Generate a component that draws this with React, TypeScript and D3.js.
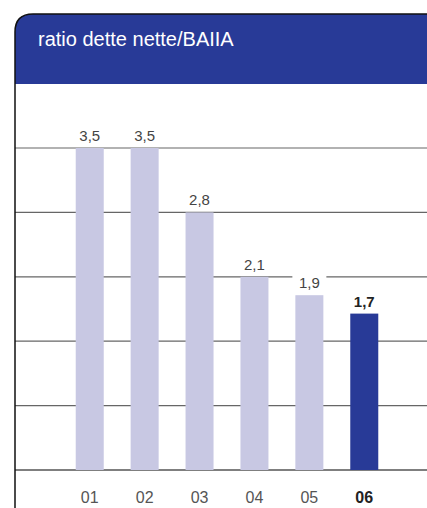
import React from 'react';
import * as d3 from 'd3';

const years = ['01', '02', '03', '04', '05', '06'];
const ratios = [3.5, 3.5, 2.8, 2.1, 1.9, 1.7];
const ratioLabels = ['3,5', '3,5', '2,8', '2,1', '1,9', '1,7'];
const gridTicks = [0, 0.7, 1.4, 2.1, 2.8, 3.5];
const title = 'ratio dette nette/BAIIA';

const App: React.FC = () => {
    const width = 427;
    const height = 508;
    const left = 15;
    const top = 14;
    const headerBottom = 84;
    const radius = 18;

    // scales
    const x = d3.scaleBand<string>()
        .domain(years)
        .range([62, 392])
        .paddingInner(0.49)
        .paddingOuter(0.25);
    const y = d3.scaleLinear().domain([0, 3.5]).range([470, 148]);

    const lastIdx = years.length - 1;
    const font = 'Liberation Sans, Arial, Helvetica, sans-serif';

    // frame with rounded top-left corner
    const framePath = `M${left},${height + 2} L${left},${top + radius} Q${left},${top} ${left + radius},${top} L${width + 2},${top}`;
    const headerPath = `M${left},${headerBottom} L${left},${top + radius} Q${left},${top} ${left + radius},${top} L${width + 2},${top} L${width + 2},${headerBottom} Z`;

    return (
        <svg width={width} height={height} style={{ position: 'absolute', left: 0, top: 0, background: '#fff' }}>
            <path d={headerPath} fill="#283a97" />
            <text x={38} y={46} fill="#fff" fontFamily={font} fontSize={20}>{title}</text>

            {/* gridlines */}
            {gridTicks.map((t, i) => (
                <line key={i} x1={left} x2={width} y1={y(t)} y2={y(t)}
                    stroke={t === 0 ? '#555' : '#666'} strokeWidth={t === 0 ? 1.5 : 1.2} />
            ))}

            {/* bars */}
            {ratios.map((v, i) => (
                <rect key={years[i]} x={x(years[i])} y={y(v)} width={x.bandwidth()} height={y(0) - y(v)}
                    fill={i === lastIdx ? '#283a97' : '#c8c8e3'} />
            ))}

            {/* value labels */}
            {ratios.map((v, i) => {
                const cx = (x(years[i]) ?? 0) + x.bandwidth() / 2;
                return (
                    <g key={'l' + i}>
                        <rect x={cx - 17} y={y(v) - 22} width={34} height={18} fill="#fff" />
                        <text x={cx} y={y(v) - 7} textAnchor="middle" fontFamily={font} fontSize={15}
                            fontWeight={i === lastIdx ? 'bold' : 'normal'} fill={i === lastIdx ? '#222' : '#444'}>
                            {ratioLabels[i]}
                        </text>
                    </g>
                );
            })}

            {/* x labels */}
            {years.map((yr, i) => (
                <text key={'x' + yr} x={(x(yr) ?? 0) + x.bandwidth() / 2} y={503} textAnchor="middle"
                    fontFamily={font} fontSize={16} fontWeight={i === lastIdx ? 'bold' : 'normal'}
                    fill={i === lastIdx ? '#222' : '#555'}>
                    {yr}
                </text>
            ))}

            <path d={framePath} fill="none" stroke="#111" strokeWidth={1.5} />
        </svg>
    );
};

export default App;
